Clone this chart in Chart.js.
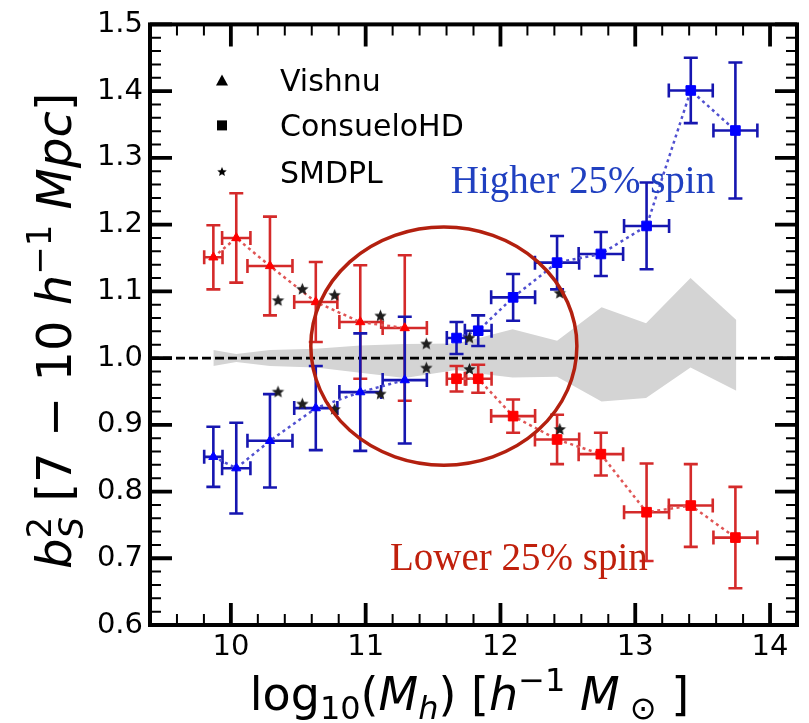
<!DOCTYPE html>
<html>
<head>
<meta charset="utf-8">
<script src="https://cdn.jsdelivr.net/npm/chart.js@4.4.1/dist/chart.umd.min.js"></script>
<style>
  html, body { margin: 0; padding: 0; background: #fff; }
  canvas { display: block; }
</style>
</head>
<body>
<canvas id="Spin__Chart" width="809" height="723" style="width:809px;height:723px"></canvas>
<script>
/* Vishnu (triangles) */
const vishnuX = [9.87, 10.04, 10.29, 10.63, 10.96, 11.29];
const vishnuXErr = [0.068, 0.105, 0.167, 0.16, 0.155, 0.164];
const vishnuLowY = [1.151, 1.180, 1.138, 1.084, 1.054, 1.045];
const vishnuLowYErr = [0.048, 0.067, 0.074, 0.060, 0.085, 0.109];
const vishnuHighY = [0.852, 0.835, 0.876, 0.925, 0.949, 0.967];
const vishnuHighYErr = [0.045, 0.068, 0.070, 0.063, 0.088, 0.095];

/* ConsueloHD (squares) */
const consueloX = [11.674, 11.835, 12.094, 12.42, 12.745, 13.084, 13.412, 13.743];
const consueloXErr = [0.072, 0.099, 0.163, 0.164, 0.165, 0.167, 0.163, 0.163];
const consueloHighY = [1.030, 1.041, 1.091, 1.143, 1.156, 1.198, 1.401, 1.341];
const consueloHighYErr = [0.024, 0.023, 0.035, 0.040, 0.033, 0.065, 0.049, 0.102];
const consueloLowY = [0.969, 0.969, 0.913, 0.878, 0.856, 0.769, 0.779, 0.731];
const consueloLowYErr = [0.019, 0.021, 0.025, 0.037, 0.032, 0.073, 0.062, 0.076];

/* SMDPL (stars) */
const smdplX = [10.35, 10.53, 10.77, 11.11, 11.45, 11.77, 12.44];
const smdplLowSpinY = [1.086, 1.103, 1.094, 1.063, 1.021, 0.983, 0.893];
const smdplHighSpinY = [0.949, 0.931, 0.923, 0.946, 0.985, 1.030, 1.097];

/* grey band around 1 */
const bandX = [9.87, 10.04, 10.29, 10.63, 10.96, 11.29, 11.67, 11.84, 12.09, 12.42, 12.75, 13.08, 13.41, 13.75];
const bandUpper = [1.012, 1.006, 1.012, 1.014, 1.019, 1.021, 1.022, 1.030, 1.043, 1.026, 1.076, 1.052, 1.120, 1.057];
const bandLower = [0.988, 0.994, 0.988, 0.986, 0.978, 0.970, 0.982, 0.977, 0.971, 0.972, 0.935, 0.940, 0.986, 0.951];

/* axis ticks */
const xTicks = [10, 11, 12, 13, 14];
const yTicks = [0.6, 0.7, 0.8, 0.9, 1.0, 1.1, 1.2, 1.3, 1.4, 1.5];
const legendNames = ["Vishnu", "ConsueloHD", "SMDPL"];

const RED = "#ff0000", RED_BAR = "#d42a2a", RED_DOT = "#e05555";
const BLUE = "#0000ff", BLUE_BAR = "#1616b0", BLUE_DOT = "#5050d0";
const FONT = "DejaVu Sans";

/* filled five point star used as point style */
function makeStar(r, color) {
  const c = document.createElement("canvas");
  c.width = c.height = Math.ceil(2 * r + 2);
  const g = c.getContext("2d");
  g.fillStyle = color;
  g.beginPath();
  for (let i = 0; i < 10; i++) {
    const rad = i % 2 === 0 ? r : r * 0.45;
    const a = -Math.PI / 2 + i * Math.PI / 5;
    g.lineTo(c.width / 2 + rad * Math.cos(a), c.height / 2 + rad * Math.sin(a));
  }
  g.closePath();
  g.fill();
  return c;
}
const starImg = makeStar(6.5, "#1e1e1e");

const pts = (xs, ys) => xs.map((x, i) => ({ x: x, y: ys[i] }));

function seriesSet(xs, ys, style, fill, line, radius, order) {
  return {
    type: "line", data: pts(xs, ys), showLine: true,
    borderColor: line, borderWidth: 2.5, borderDash: [3, 3.5],
    pointStyle: style, pointRadius: radius, pointBorderWidth: 1,
    pointBackgroundColor: fill, pointBorderColor: fill, order: order
  };
}

const datasets = [
  { type: "line", data: pts(bandX, bandLower), borderWidth: 1, borderColor: "rgba(0,0,0,0)",
    pointRadius: 0, fill: false, order: 12 },
  { type: "line", data: pts(bandX, bandUpper), borderWidth: 1, borderColor: "rgba(0,0,0,0)",
    pointRadius: 0, fill: "-1", backgroundColor: "#d4d4d4", order: 11 },
  seriesSet(vishnuX, vishnuLowY, "triangle", RED, RED_DOT, 5.3, 4),
  seriesSet(vishnuX, vishnuHighY, "triangle", BLUE, BLUE_DOT, 5.3, 4),
  seriesSet(consueloX, consueloLowY, "rect", RED, RED_DOT, 6.8, 3),
  seriesSet(consueloX, consueloHighY, "rect", BLUE, BLUE_DOT, 6.8, 3),
  { type: "scatter", data: pts(smdplX, smdplLowSpinY), pointStyle: starImg, order: 1 },
  { type: "scatter", data: pts(smdplX, smdplHighSpinY), pointStyle: starImg, order: 1 }
];
const BAND_TOP = 1;

const errSeries = [
  { x: vishnuX, xe: vishnuXErr, y: vishnuLowY, ye: vishnuLowYErr, color: RED_BAR },
  { x: vishnuX, xe: vishnuXErr, y: vishnuHighY, ye: vishnuHighYErr, color: BLUE_BAR },
  { x: consueloX, xe: consueloXErr, y: consueloLowY, ye: consueloLowYErr, color: RED_BAR },
  { x: consueloX, xe: consueloXErr, y: consueloHighY, ye: consueloHighYErr, color: BLUE_BAR }
];

/* draws text pieces with italic / sub / superscript parts */
function drawRich(ctx, parts, x, y, size, align) {
  const fontOf = p => (p.it ? "italic " : "") + Math.round(size * (p.sc || 1)) + "px '" + FONT + "'";
  let total = 0;
  parts.forEach(p => { ctx.font = fontOf(p); if (!p.noAdv) total += ctx.measureText(p.t).width; });
  let cx = align === "center" ? x - total / 2 : x;
  ctx.textAlign = "left";
  ctx.textBaseline = "alphabetic";
  parts.forEach(p => {
    ctx.font = fontOf(p);
    ctx.fillText(p.t, cx, y + (p.dy || 0) * size);
    if (!p.noAdv) cx += ctx.measureText(p.t).width;
  });
}

const xTitle = [
  { t: "log" }, { t: "10", sc: 0.7, dy: 0.2 }, { t: "(" }, { t: "M", it: 1 },
  { t: "h", it: 1, sc: 0.7, dy: 0.2 }, { t: ") [" }, { t: "h", it: 1 },
  { t: "\u22121", sc: 0.7, dy: -0.42 }, { t: " " }, { t: "M", it: 1 },
  { t: " \u2299", sc: 0.7, dy: 0.2 }, { t: " ]" }
];
const yTitle = [
  { t: "b", it: 1 }, { t: "2", sc: 0.7, dy: -0.42, noAdv: 1 }, { t: "S", it: 1, sc: 0.7, dy: 0.25 },
  { t: " [7 \u2212 10 " }, { t: "h", it: 1 }, { t: "\u22121", sc: 0.7, dy: -0.42 },
  { t: " " }, { t: "Mpc", it: 1 }, { t: "]" }
];

const overlay = {
  id: "overlay",
  afterDatasetDraw(chart, args) {
    if (args.index !== BAND_TOP) return;
    const ctx = chart.ctx, xs = chart.scales.x, ys = chart.scales.y, area = chart.chartArea;
    ctx.save();
    /* reference line at 1 */
    ctx.strokeStyle = "#000";
    ctx.lineWidth = 2.8;
    ctx.setLineDash([9, 4]);
    ctx.beginPath();
    ctx.moveTo(area.left, ys.getPixelForValue(1));
    ctx.lineTo(area.right, ys.getPixelForValue(1));
    ctx.stroke();
    ctx.setLineDash([]);
    /* error bars */
    const cap = 7;
    errSeries.forEach(s => {
      ctx.strokeStyle = s.color;
      ctx.lineWidth = 2.6;
      s.x.forEach((xv, i) => {
        const px = xs.getPixelForValue(xv), py = ys.getPixelForValue(s.y[i]);
        const x0 = xs.getPixelForValue(xv - s.xe[i]), x1 = xs.getPixelForValue(xv + s.xe[i]);
        const y0 = ys.getPixelForValue(s.y[i] - s.ye[i]), y1 = ys.getPixelForValue(s.y[i] + s.ye[i]);
        ctx.beginPath();
        ctx.moveTo(x0, py); ctx.lineTo(x1, py);
        ctx.moveTo(px, y0); ctx.lineTo(px, y1);
        ctx.moveTo(x0, py - cap); ctx.lineTo(x0, py + cap);
        ctx.moveTo(x1, py - cap); ctx.lineTo(x1, py + cap);
        ctx.moveTo(px - cap, y0); ctx.lineTo(px + cap, y0);
        ctx.moveTo(px - cap, y1); ctx.lineTo(px + cap, y1);
        ctx.stroke();
      });
    });
    ctx.restore();
  },
  afterDatasetsDraw(chart) {
    const ctx = chart.ctx, xs = chart.scales.x, ys = chart.scales.y, area = chart.chartArea;
    ctx.save();
    /* highlight ellipse */
    const cx = xs.getPixelForValue(11.58), cy = ys.getPixelForValue(1.018);
    const rx = xs.getPixelForValue(11.58 + 0.987) - cx, ry = cy - ys.getPixelForValue(1.018 + 0.1785);
    ctx.strokeStyle = "#b3200f";
    ctx.lineWidth = 3.5;
    ctx.beginPath();
    ctx.ellipse(cx, cy, rx, ry, 0, 0, 2 * Math.PI);
    ctx.stroke();
    /* annotations */
    ctx.font = "39px 'Liberation Serif'";
    ctx.textAlign = "left";
    ctx.textBaseline = "alphabetic";
    ctx.fillStyle = "#2040c0";
    ctx.fillText("Higher 25% spin", xs.getPixelForValue(11.632), ys.getPixelForValue(1.247));
    ctx.fillStyle = "#c0200c";
    ctx.fillText("Lower 25% spin", xs.getPixelForValue(11.18), ys.getPixelForValue(0.6825));
    /* legend */
    const mx = area.left + 72, tx = area.left + 130;
    const rows = [area.top + 56, area.top + 101, area.top + 147.5];
    ctx.fillStyle = "#000";
    ctx.beginPath();
    ctx.moveTo(mx, rows[0] - 6); ctx.lineTo(mx + 6, rows[0] + 5); ctx.lineTo(mx - 6, rows[0] + 5);
    ctx.closePath(); ctx.fill();
    ctx.fillRect(mx - 5, rows[1] - 5, 10, 10);
    ctx.drawImage(makeStar(5, "#000"), mx - 6, rows[2] - 6);
    ctx.font = "30px '" + FONT + "'";
    legendNames.forEach((n, i) => ctx.fillText(n, tx, rows[i] + 10.8));
    ctx.restore();
  },
  afterDraw(chart) {
    const ctx = chart.ctx, xs = chart.scales.x, ys = chart.scales.y, a = chart.chartArea;
    ctx.save();
    ctx.strokeStyle = "#000";
    /* minor ticks, inward on all sides */
    ctx.lineWidth = 2;
    ctx.beginPath();
    for (let v = 9.4; v < 14.21; v += 0.2) {
      const p = xs.getPixelForValue(v);
      ctx.moveTo(p, a.bottom); ctx.lineTo(p, a.bottom - 11);
      ctx.moveTo(p, a.top); ctx.lineTo(p, a.top + 11);
    }
    for (let v = 0.6; v < 1.501; v += 0.02) {
      const p = ys.getPixelForValue(v);
      ctx.moveTo(a.left, p); ctx.lineTo(a.left + 11, p);
      ctx.moveTo(a.right, p); ctx.lineTo(a.right - 11, p);
    }
    ctx.stroke();
    /* major ticks */
    ctx.lineWidth = 3.8;
    ctx.beginPath();
    xTicks.forEach(v => {
      const p = xs.getPixelForValue(v);
      ctx.moveTo(p, a.bottom); ctx.lineTo(p, a.bottom - 22);
      ctx.moveTo(p, a.top); ctx.lineTo(p, a.top + 22);
    });
    yTicks.forEach(v => {
      const p = ys.getPixelForValue(v);
      ctx.moveTo(a.left, p); ctx.lineTo(a.left + 22, p);
      ctx.moveTo(a.right, p); ctx.lineTo(a.right - 22, p);
    });
    ctx.stroke();
    /* frame */
    ctx.lineWidth = 4;
    ctx.strokeRect(a.left, a.top, a.right - a.left, a.bottom - a.top);
    /* axis titles */
    ctx.fillStyle = "#000";
    drawRich(ctx, xTitle, (a.left + a.right) / 2 - 4, 710, 46, "center");
    ctx.translate(71, (a.top + a.bottom) / 2 + 6);
    ctx.rotate(-Math.PI / 2);
    drawRich(ctx, yTitle, 0, 0, 48, "center");
    ctx.restore();
  }
};

const wheel = document.getElementById("Spin__Chart");
const myChart = new Chart(wheel, {
  data: { datasets: datasets },
  plugins: [overlay],
  options: {
    responsive: false,
    animation: false,
    events: [],
    layout: { padding: { left: 0, right: 12, top: 24, bottom: 0 } },
    scales: {
      x: {
        type: "linear", min: 9.4, max: 14.2,
        afterFit: s => { s.height = 98; },
        afterBuildTicks: s => { s.ticks = xTicks.map(v => ({ value: v })); },
        grid: { display: false, drawTicks: false },
        border: { display: false },
        ticks: { color: "#000", font: { family: FONT, size: 29 }, padding: 5, maxRotation: 0, autoSkip: false,
                 callback: v => String(v) }
      },
      y: {
        type: "linear", min: 0.6, max: 1.5,
        afterFit: s => { s.width = 150; },
        afterBuildTicks: s => { s.ticks = yTicks.map(v => ({ value: v })); },
        grid: { display: false, drawTicks: false },
        border: { display: false },
        ticks: { color: "#000", font: { family: FONT, size: 29 }, padding: 7, autoSkip: false,
                 callback: v => v.toFixed(1) }
      }
    },
    plugins: { legend: { display: false }, tooltip: { enabled: false } }
  }
});
</script>
</body>
</html>
